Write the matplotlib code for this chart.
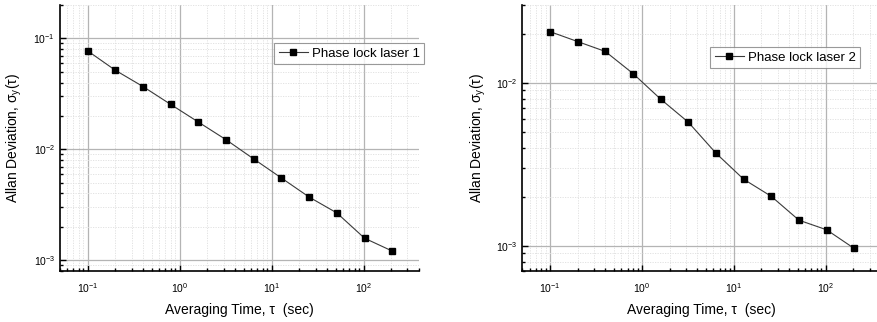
import numpy as np
import matplotlib
matplotlib.use('Agg')
import matplotlib.pyplot as plt

plt.rcParams['font.family'] = ['Liberation Sans', 'DejaVu Sans']
plt.rcParams['mathtext.fontset'] = 'custom'
plt.rcParams['mathtext.rm'] = 'Liberation Sans'
plt.rcParams['mathtext.it'] = 'Liberation Sans:italic'

tau = [0.1, 0.2, 0.4, 0.8, 1.6, 3.2, 6.4, 12.8, 25.6, 51.2, 102.4, 204.8]
adev_laser1 = [0.0772, 0.0516, 0.0368, 0.0254, 0.0176, 0.0122, 0.00818,
               0.00551, 0.00371, 0.00267, 0.00158, 0.00121]
adev_laser2 = [0.0206, 0.0179, 0.01557, 0.0114, 0.00794, 0.00573, 0.00370,
               0.00256, 0.00201, 0.001435, 0.001253, 0.000962]

fig = plt.figure(figsize=(8.78, 3.22), dpi=100)
ax1 = fig.add_axes([0.0683, 0.1584, 0.4089, 0.826])
ax2 = fig.add_axes([0.5949, 0.1584, 0.4085, 0.826])


def style_axes(ax, y, label, ylim, leg_anchor, ylab_x):
    ax.plot(tau, y, color='#3a3a3a', lw=0.8, marker='s', ms=4.5,
            mfc='black', mec='black', label=label, zorder=3)
    ax.set_xscale('log')
    ax.set_yscale('log')
    ax.set_xlim(0.05, 400)
    ax.set_ylim(*ylim)
    ax.grid(True, which='major', color='#b4b4b4', lw=0.9)
    ax.grid(True, which='minor', color='#dedede', lw=0.6, ls=(0, (1.5, 1.5)))
    ax.set_axisbelow(True)
    for s in ['top', 'right']:
        ax.spines[s].set_visible(False)
    for s in ['left', 'bottom']:
        ax.spines[s].set_linewidth(1.2)
    ax.tick_params(which='both', direction='in', labelsize=7.5, width=1.0)
    ax.tick_params(which='major', length=4)
    ax.tick_params(which='minor', length=2.5)
    ax.tick_params(axis='x', which='both', pad=7)
    ax.set_xlabel('Averaging Time, τ  (sec)', fontsize=10, labelpad=6)
    ax.set_ylabel(r'Allan Deviation, $\mathrm{\sigma_y(\tau)}$', fontsize=10)
    ax.yaxis.set_label_coords(ylab_x, 0.5)
    leg = ax.legend(loc='upper left', bbox_to_anchor=leg_anchor,
                    bbox_transform=fig.transFigure, fancybox=False,
                    fontsize=9.5, handlelength=2.2, borderpad=0.35,
                    handletextpad=0.3, borderaxespad=0)
    leg.get_frame().set_edgecolor('#808080')
    leg.get_frame().set_linewidth(0.8)
    leg.set_clip_on(False)


style_axes(ax1, adev_laser1, 'Phase lock laser 1', (8e-4, 0.2),
           (274 / 878, 1 - 43 / 322), -0.10)
style_axes(ax2, adev_laser2, 'Phase lock laser 2', (7e-4, 0.03),
           (710 / 878, 1 - 47 / 322), -0.096)

plt.savefig('out.png', dpi=100)
